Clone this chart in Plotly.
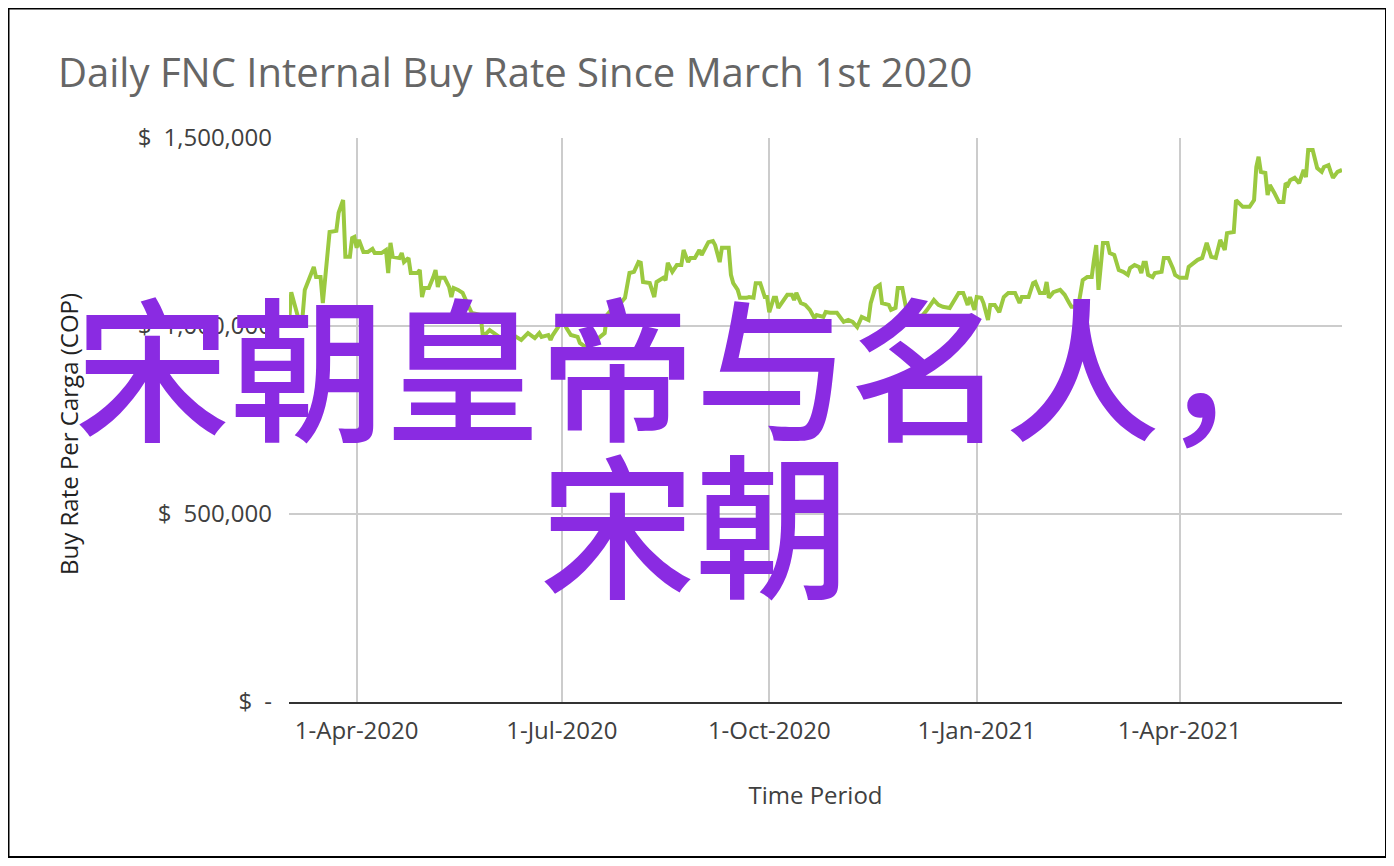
import pandas as pd
import plotly.graph_objects as go

# ---- data ----
start_date = "2020-03-01"
day_offsets = [
    1, 2, 5, 7, 8, 12, 13, 15, 16, 18, 19, 22, 23, 25, 26, 28, 29, 30, 31, 32,
    34, 36, 38, 39, 42, 44, 45, 46, 47, 50, 51, 52, 54, 55, 58, 59, 60, 61, 63, 65,
    66, 67, 68, 70, 72, 73, 74, 76, 78, 80, 82, 84, 86, 87, 90, 95, 99, 104, 107, 110,
    112, 113, 116, 117, 118, 121, 122, 124, 126, 129, 130, 133, 137, 141, 142, 145, 148, 150, 152, 154,
    156, 157, 158, 161, 163, 164, 167, 168, 169, 171, 173, 175, 176, 178, 179, 181, 183, 184, 187, 189,
    190, 192, 193, 196, 197, 198, 200, 201, 204, 205, 207, 208, 210, 212, 213, 214, 216, 217, 218, 220,
    222, 224, 225, 226, 228, 230, 232, 234, 235, 238, 239, 241, 244, 247, 249, 251, 253, 255, 258, 259,
    261, 263, 264, 267, 268, 270, 271, 273, 274, 275, 278, 281, 284, 287, 289, 291, 294, 298, 300, 302,
    303, 305, 306, 308, 309, 311, 312, 314, 316, 318, 320, 323, 325, 326, 329, 331, 332, 334, 336, 337,
    338, 340, 343, 345, 347, 348, 351, 352, 353, 355, 357, 358, 359, 360, 362, 364, 365, 367, 369, 371,
    373, 374, 376, 378, 379, 380, 381, 382, 384, 385, 388, 389, 391, 393, 394, 396, 399, 400, 402, 404,
    406, 408, 410, 412, 414, 416, 417, 420, 421, 422, 424, 427, 429, 430, 431, 432, 434, 435, 436, 438,
    440, 442, 443, 444, 445, 447, 449, 451, 452, 453, 455, 457, 459, 460, 462, 463, 464, 466, 468,
]
buy_rate_cop = [
    1010000, 1090000, 1024000, 1024000, 1096000, 1157000, 1130000, 1130000, 1061000, 1194000,
    1250000, 1253000, 1301000, 1335000, 1184000, 1184000, 1234000, 1237000, 1208000, 1229000,
    1197000, 1197000, 1205000, 1194000, 1194000, 1202000, 1141000, 1221000, 1184000, 1181000,
    1194000, 1170000, 1181000, 1141000, 1141000, 1149000, 1077000, 1101000, 1101000, 1130000,
    1149000, 1104000, 1128000, 1128000, 1104000, 1077000, 1101000, 1096000, 1088000, 1061000,
    1035000, 1032000, 1029000, 971000, 989000, 968000, 981000, 963000, 981000, 968000,
    981000, 971000, 976000, 963000, 976000, 1003000, 1021000, 995000, 976000, 971000,
    955000, 942000, 963000, 981000, 1029000, 1051000, 1061000, 1075000, 1141000, 1144000,
    1170000, 1168000, 1117000, 1114000, 1077000, 1117000, 1128000, 1122000, 1168000, 1144000,
    1162000, 1162000, 1202000, 1170000, 1181000, 1181000, 1202000, 1189000, 1223000, 1226000,
    1215000, 1170000, 1208000, 1208000, 1136000, 1114000, 1096000, 1075000, 1075000, 1077000,
    1075000, 1114000, 1114000, 1077000, 1077000, 1037000, 1075000, 1075000, 1048000, 1064000,
    1083000, 1083000, 1069000, 1088000, 1061000, 1056000, 1043000, 1021000, 1029000, 1024000,
    1037000, 1035000, 1035000, 1011000, 1016000, 1011000, 997000, 1024000, 1016000, 1061000,
    1101000, 1109000, 1061000, 1056000, 1043000, 1048000, 1101000, 1101000, 1069000, 1037000,
    1029000, 1021000, 1043000, 1069000, 1056000, 1051000, 1048000, 1088000, 1088000, 1056000,
    1077000, 1043000, 1077000, 1075000, 1061000, 1016000, 1056000, 1056000, 1037000, 1077000,
    1088000, 1088000, 1061000, 1077000, 1077000, 1114000, 1117000, 1088000, 1088000, 1117000,
    1075000, 1090000, 1096000, 1083000, 1061000, 1051000, 1051000, 1088000, 1122000, 1130000,
    1130000, 1176000, 1215000, 1096000, 1221000, 1221000, 1194000, 1189000, 1149000, 1144000,
    1136000, 1154000, 1162000, 1157000, 1141000, 1168000, 1168000, 1136000, 1130000, 1141000,
    1144000, 1181000, 1181000, 1154000, 1136000, 1128000, 1128000, 1157000, 1168000, 1176000,
    1181000, 1221000, 1184000, 1181000, 1229000, 1202000, 1247000, 1250000, 1335000, 1330000,
    1317000, 1317000, 1335000, 1423000, 1450000, 1410000, 1407000, 1348000, 1375000, 1354000,
    1330000, 1330000, 1380000, 1375000, 1388000, 1394000, 1380000, 1415000, 1396000, 1468000,
    1468000, 1420000, 1410000, 1423000, 1428000, 1410000, 1394000, 1410000, 1415000,
]
x_tick_dates = ["2020-04-01", "2020-07-01", "2020-10-01", "2021-01-01", "2021-04-01"]
x_tick_labels = ["1-Apr-2020", "1-Jul-2020", "1-Oct-2020", "1-Jan-2021", "1-Apr-2021"]
y_tick_values = [0, 500000, 1000000, 1500000]
y_tick_labels = ["$\u2002-", "$\u2002500,000", "$\u20021,000,000", "$\u20021,500,000"]
x_range = ["2020-03-02", "2021-06-12"]

chart_title = "Daily FNC Internal Buy Rate Since March 1st 2020"
x_title = "Time Period"
y_title = "Buy Rate Per Carga (COP)"
overlay_line1 = "宋朝皇帝与名人，"
overlay_line2 = "宋朝"

dates = pd.Timestamp(start_date) + pd.to_timedelta(day_offsets, unit="D")

fig = go.Figure()
fig.add_trace(go.Scatter(
    x=dates, y=buy_rate_cop, mode="lines",
    line=dict(color="#9bc940", width=4),
    showlegend=False, hoverinfo="x+y",
))

# the page body adds an 8px offset, so the figure is 8px smaller than the window
W, H = 1386, 858
L, T = 281, 130
pw, ph = 1053, 564
R, B = W - L - pw, H - T - ph


def px_x(x):
    return (x - L) / pw


def px_y(y):
    return (T + ph - y) / ph


axis_font = dict(family="Open Sans", size=24, color="#404040")

fig.update_layout(
    width=W, height=H,
    margin=dict(l=L, r=R, t=T, b=B, autoexpand=False),
    paper_bgcolor="white", plot_bgcolor="white",
    title=dict(text=chart_title, x=50 / W, xanchor="left", xref="container",
               y=1 - 65 / H, yanchor="middle", yref="container",
               font=dict(family="Open Sans", size=40, color="#666666")),
    xaxis=dict(
        type="date", range=x_range, tickvals=x_tick_dates, ticktext=x_tick_labels,
        showgrid=True, gridcolor="#cccccc", gridwidth=2,
        showline=True, linecolor="#333333", linewidth=2,
        ticks="", tickfont=axis_font, ticklabelstandoff=6,
        title=dict(text=x_title, font=axis_font, standoff=42),
        zeroline=False, automargin=False,
    ),
    yaxis=dict(
        range=[0, 1500000], tickvals=y_tick_values, ticktext=y_tick_labels,
        showgrid=True, gridcolor="#cccccc", gridwidth=2,
        showline=False, zeroline=False,
        ticks="", tickfont=axis_font, ticklabelstandoff=16,
        automargin=False,
    ),
    shapes=[dict(type="rect", xref="paper", yref="paper",
                 x0=px_x(0.5), x1=px_x(1378), y0=px_y(849), y1=px_y(0.5),
                 line=dict(color="black", width=2), fillcolor="rgba(0,0,0,0)", layer="above")],
    annotations=[
        dict(text=y_title, xref="paper", yref="paper", x=px_x(60), y=px_y(426),
             xanchor="center", yanchor="middle", textangle=-90, showarrow=False,
             font=dict(family="Open Sans", size=24, color="#222222")),
        dict(text=overlay_line1, xref="paper", yref="paper", x=px_x(687), y=px_y(353),
             xanchor="center", yanchor="middle", showarrow=False,
             font=dict(family="Noto Sans CJK SC", size=155, color="#8a2be2", weight=500)),
        dict(text=overlay_line2, xref="paper", yref="paper", x=px_x(687), y=px_y(510),
             xanchor="center", yanchor="middle", showarrow=False,
             font=dict(family="Noto Sans CJK SC", size=155, color="#8a2be2", weight=500)),
    ],
)

fig.write_html("out.html")
